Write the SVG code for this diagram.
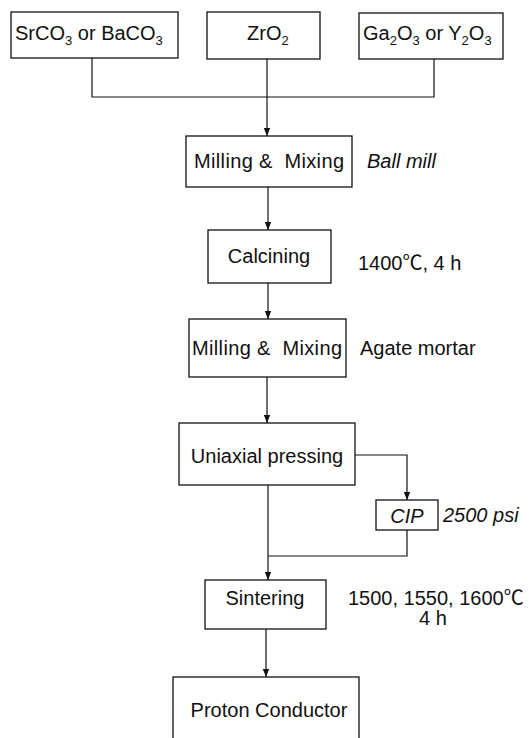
<svg xmlns="http://www.w3.org/2000/svg" width="529" height="738" viewBox="0 0 529 738">
<style>
  .box { fill: #fff; stroke: #111; stroke-width: 1.3; }
  .t { font-family: "Liberation Sans", Arial, "Noto Sans CJK SC", sans-serif; font-size: 20px; fill: #111; }
  .c { text-anchor: middle; }
  .i { font-style: italic; }
  .sub { font-size: 13px; }
  .ln { fill: none; stroke: #111; stroke-width: 1.2; }
</style>
<defs>
  <marker id="arr" markerUnits="userSpaceOnUse" markerWidth="8" markerHeight="8" viewBox="0 0 8 8" refX="8" refY="4" orient="auto">
    <path d="M0,0.8 L8,4 L0,7.2 Z" fill="#111"/>
  </marker>
</defs>
<rect width="529" height="738" fill="#fff"/>

<g id="connectors">
  <polyline class="ln" points="92,58 92,97 434,97 434,59"/>
  <line class="ln" x1="267" y1="59" x2="267" y2="136" marker-end="url(#arr)"/>
  <line class="ln" x1="268" y1="187" x2="268" y2="230" marker-end="url(#arr)"/>
  <line class="ln" x1="268" y1="283" x2="268" y2="319" marker-end="url(#arr)"/>
  <line class="ln" x1="267" y1="377" x2="267" y2="423" marker-end="url(#arr)"/>
  <polyline class="ln" points="355,455 407,455 407,500" marker-end="url(#arr)"/>
  <polyline class="ln" points="407,530 407,556 268,556"/>
  <line class="ln" x1="268" y1="485" x2="268" y2="580" marker-end="url(#arr)"/>
  <line class="ln" x1="266" y1="629" x2="266" y2="677" marker-end="url(#arr)"/>
</g>

<g id="srco3">
  <rect class="box" x="11" y="12" width="167" height="46"/>
  <text class="t" x="15" y="40">SrCO<tspan class="sub" dy="5">3</tspan><tspan dy="-5"> or BaCO</tspan><tspan class="sub" dy="5">3</tspan></text>
</g>
<g id="zro2">
  <rect class="box" x="207" y="12" width="113" height="47"/>
  <text class="t" x="247" y="40">ZrO<tspan class="sub" dy="5">2</tspan></text>
</g>
<g id="ga2o3">
  <rect class="box" x="359" y="13" width="144" height="46"/>
  <text class="t" x="363" y="40">Ga<tspan class="sub" dy="5">2</tspan><tspan dy="-5">O</tspan><tspan class="sub" dy="5">3</tspan><tspan dy="-5"> or Y</tspan><tspan class="sub" dy="5">2</tspan><tspan dy="-5">O</tspan><tspan class="sub" dy="5">3</tspan></text>
</g>

<g id="milling1">
  <rect class="box" x="186" y="136" width="166" height="51"/>
  <text class="t c" x="269" y="168" textLength="150">Milling &amp;&#160; Mixing</text>
  <text class="t i" x="367" y="168">Ball mill</text>
</g>
<g id="calcining">
  <rect class="box" x="208" y="230" width="123" height="53"/>
  <text class="t c" x="269" y="263">Calcining</text>
  <text class="t" x="358" y="270">1400℃, 4 h</text>
</g>
<g id="milling2">
  <rect class="box" x="189" y="319" width="157" height="58"/>
  <text class="t c" x="267" y="355" textLength="150">Milling &amp;&#160; Mixing</text>
  <text class="t" x="360" y="355">Agate mortar</text>
</g>
<g id="uniaxial">
  <rect class="box" x="179" y="423" width="176" height="62"/>
  <text class="t c" x="267" y="463">Uniaxial pressing</text>
</g>
<g id="cip">
  <rect class="box" x="376" y="500" width="62" height="30"/>
  <text class="t c i" x="407" y="523">CIP</text>
  <text class="t i" x="443" y="522">2500 psi</text>
</g>
<g id="sintering">
  <rect class="box" x="205" y="580" width="121" height="49"/>
  <text class="t c" x="265" y="605">Sintering</text>
  <text class="t" x="348" y="605">1500, 1550, 1600℃</text>
  <text class="t c" x="433" y="625">4 h</text>
</g>
<g id="proton">
  <rect class="box" x="173" y="677" width="186" height="75"/>
  <text class="t c" x="269" y="717">Proton Conductor</text>
</g>
</svg>
